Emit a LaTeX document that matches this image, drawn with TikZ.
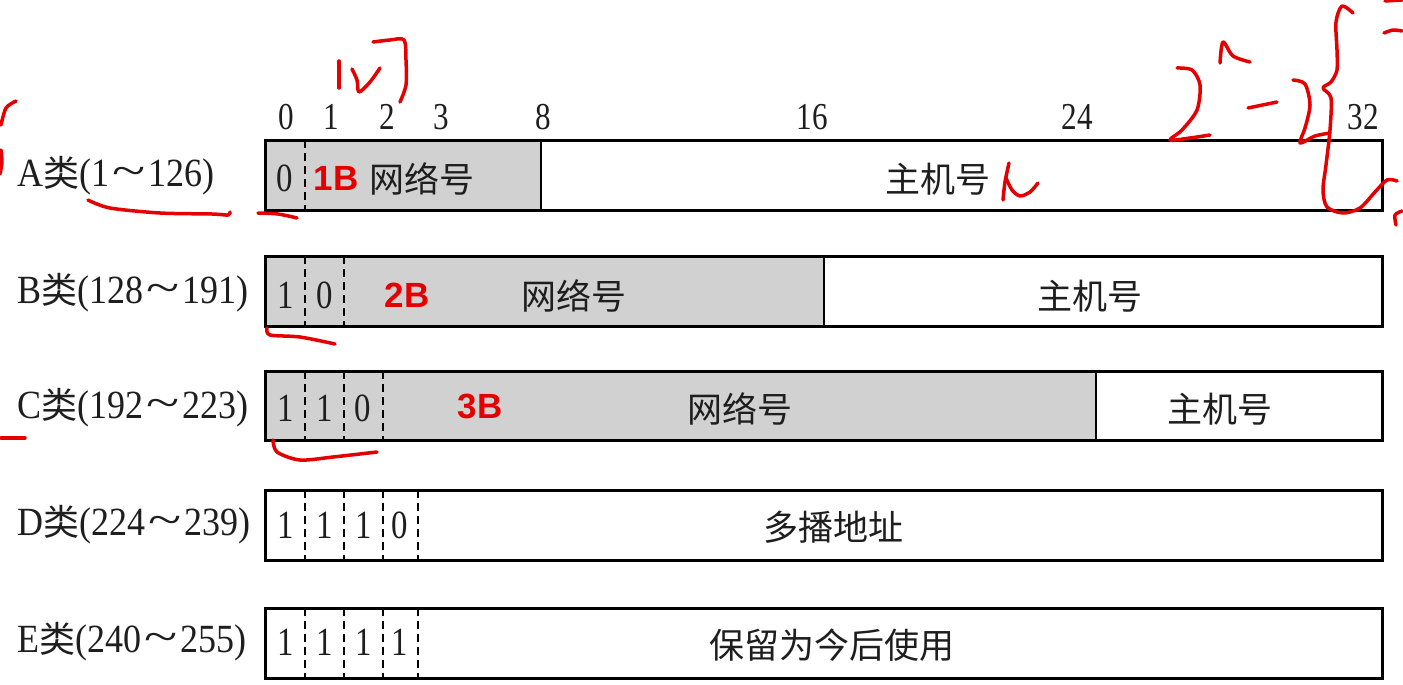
\documentclass[tikz,border=0pt]{standalone}
\usepackage{fontspec}
\usepackage{graphicx}
\newfontfamily\cjk{Noto Sans CJK SC}
\newfontfamily\rom{Liberation Serif}[FakeStretch=0.82]
\newfontfamily\romlab{Liberation Serif}[FakeStretch=0.9]
\newfontfamily\bsans{Liberation Sans}
\definecolor{cellgray}{RGB}{209,209,209}
\definecolor{txtred}{RGB}{228,0,0}
\definecolor{inkred}{RGB}{228,0,0}
\definecolor{txtdark}{RGB}{30,30,30}
\newcommand\labtilde{\hspace{3pt}\raisebox{1pt}{\scalebox{1.7}[1.1]{\textasciitilde}}\hspace{3pt}}
\newcommand\clslabel[3]{{\romlab\fontsize{40}{40}\selectfont #1}{\cjk\fontsize{36}{36}\selectfont 类}{\romlab\fontsize{40}{40}\selectfont (#2\labtilde #3)}}
\tikzset{
 frame/.style={draw=black, line width=3pt},
 sepline/.style={draw=black, line width=1.6pt, dash pattern=on 8pt off 5pt},
 divline/.style={draw=black, line width=2pt},
 bit/.style={inner sep=0pt, text=txtdark, font=\rom\fontsize{40}{40}\selectfont},
 field/.style={inner sep=0pt, text=txtdark, font=\cjk\fontsize{35}{35}\selectfont},
 bytes/.style={inner sep=0pt, text=txtred, font=\bsans\bfseries\fontsize{35}{35}\selectfont},
 clsname/.style={inner sep=0pt, anchor=west, text=txtdark},
 tick/.style={inner sep=0pt, text=txtdark, font=\rom\fontsize{38}{38}\selectfont},
 ink/.style={draw=inkred, line width=3.5pt, line cap=round, line join=round},
}
\begin{document}
\begin{tikzpicture}[x=1pt,y=-1pt]
\useasboundingbox[fill=white] (0,0) rectangle (1403,685);

% bit positions
\node[tick] (t0) at (286,117) {0};
\node[tick] (t1) at (331,117) {1};
\node[tick] (t2) at (387,117) {2};
\node[tick] (t3) at (441,117) {3};
\node[tick] (t8) at (543,117) {8};
\node[tick] (t16) at (812,117) {16};
\node[tick] (t24) at (1077,117) {24};
\node[tick] (t32) at (1363,117) {32};

% Row A
\fill[cellgray] (265,140) rectangle (541,210);
\draw[sepline] (305,140) -- (305,210);
\draw[divline] (541,140) -- (541,210);
\draw[frame] (265,140) rectangle (1382,210);
\node[clsname] (la) at (17,176) {\clslabel{A}{1}{126}};
\node[bit] (a0) at (285,178) {0};
\node[bytes] (a1b) at (336,178) {1B};
\node[field] (anet) at (422,179) {网络号};
\node[field] (ahost) at (938,179) {主机号};

% Row B
\fill[cellgray] (265,256) rectangle (824,326);
\draw[sepline] (305,256) -- (305,326);
\draw[sepline] (344,256) -- (344,326);
\draw[divline] (824,256) -- (824,326);
\draw[frame] (265,256) rectangle (1382,326);
\node[clsname] (lb) at (17,293) {\clslabel{B}{128}{191}};
\node[bit] (b0) at (286,295) {1};
\node[bit] (b1) at (325,295) {0};
\node[bytes] (b2b) at (407,295) {2B};
\node[field] (bnet) at (574,296) {网络号};
\node[field] (bhost) at (1090,296) {主机号};

% Row C
\fill[cellgray] (265,371) rectangle (1096,440);
\draw[sepline] (305,371) -- (305,440);
\draw[sepline] (344,371) -- (344,440);
\draw[sepline] (383,371) -- (383,440);
\draw[divline] (1096,371) -- (1096,440);
\draw[frame] (265,371) rectangle (1382,440);
\node[clsname] (lc) at (17,408) {\clslabel{C}{192}{223}};
\node[bit] (c0) at (286,408) {1};
\node[bit] (c1) at (325,408) {1};
\node[bit] (c2) at (363,408) {0};
\node[bytes] (c3b) at (480,406) {3B};
\node[field] (cnet) at (740,409) {网络号};
\node[field] (chost) at (1220,409) {主机号};

% Row D
\draw[sepline] (305,490) -- (305,560);
\draw[sepline] (344,490) -- (344,560);
\draw[sepline] (383,490) -- (383,560);
\draw[sepline] (418,490) -- (418,560);
\draw[frame] (265,490) rectangle (1382,560);
\node[clsname] (ld) at (17,525) {\clslabel{D}{224}{239}};
\node[bit] (d0) at (286,525) {1};
\node[bit] (d1) at (325,525) {1};
\node[bit] (d2) at (364,525) {1};
\node[bit] (d3) at (400,525) {0};
\node[field] (dmc) at (833,527) {多播地址};

% Row E
\draw[sepline] (305,608) -- (305,678);
\draw[sepline] (344,608) -- (344,678);
\draw[sepline] (383,608) -- (383,678);
\draw[sepline] (418,608) -- (418,678);
\draw[frame] (265,608) rectangle (1382,678);
\node[clsname] (le) at (17,642) {\clslabel{E}{240}{255}};
\node[bit] (e0) at (286,642) {1};
\node[bit] (e1) at (325,642) {1};
\node[bit] (e2) at (364,642) {1};
\node[bit] (e3) at (400,642) {1};
\node[field] (eres) at (832,645) {保留为今后使用};

% handwritten red annotations
\draw[ink] plot[smooth] coordinates {(16,101) (6,108) (1,125)};
\draw[ink] plot[smooth] coordinates {(1,150) (2,162) (0,174)};
\draw[ink] plot[smooth] coordinates {(88,200) (110,208) (160,213) (212,214) (228,215) (230,212)};
\draw[ink] plot[smooth] coordinates {(258,213) (278,214) (297,218)};
% "12]" near top
\draw[ink] (339,61) -- (339,88);
\draw[ink] plot[smooth] coordinates {(352,69) (357,80) (359,92) (370,82) (380,68)};
\draw[ink] plot[smooth] coordinates {(373,42) (390,40) (404,40) (406,60) (406,85) (400,102)};
% after host field
\draw[ink] plot[smooth] coordinates {(1009,163) (1005,182) (1003,200)};
\draw[ink] plot[smooth] coordinates {(1006,178) (1012,190) (1020,196) (1030,192) (1038,183)};
% top right "2^n - 2"
\draw[ink] plot[smooth] coordinates {(1177,68) (1192,70) (1200,85) (1197,110) (1182,130) (1170,140) (1190,138) (1210,135)};
\draw[ink] plot[smooth] coordinates {(1220,63) (1223,42) (1233,56) (1250,62)};
\draw[ink] (1248,108) -- (1277,102);
\draw[ink] plot[smooth] coordinates {(1293,80) (1305,84) (1310,105) (1305,128) (1300,143) (1315,136) (1330,133)};
% big brace
\draw[ink] plot[smooth] coordinates {(1353,13) (1342,6) (1336,22) (1337,50) (1337,70) (1331,82) (1323,88) (1331,98) (1330,130) (1326,165) (1323,190) (1327,207) (1343,213) (1360,208) (1375,192) (1387,180) (1397,181)};
\draw[ink] (1385,1) -- (1402,0);
\draw[ink] plot[smooth] coordinates {(1384,33) (1393,30) (1402,31)};
\draw[ink] plot[smooth] coordinates {(1396,225) (1395,215) (1402,211)};
% B and C underlines
\draw[ink] plot[smooth] coordinates {(267,328) (270,335) (300,337) (335,344)};
\draw[ink] (1,438) -- (25,438);
\draw[ink] plot[smooth] coordinates {(273,440) (277,452) (300,460) (333,457) (377,452)};
\end{tikzpicture}
\end{document}
